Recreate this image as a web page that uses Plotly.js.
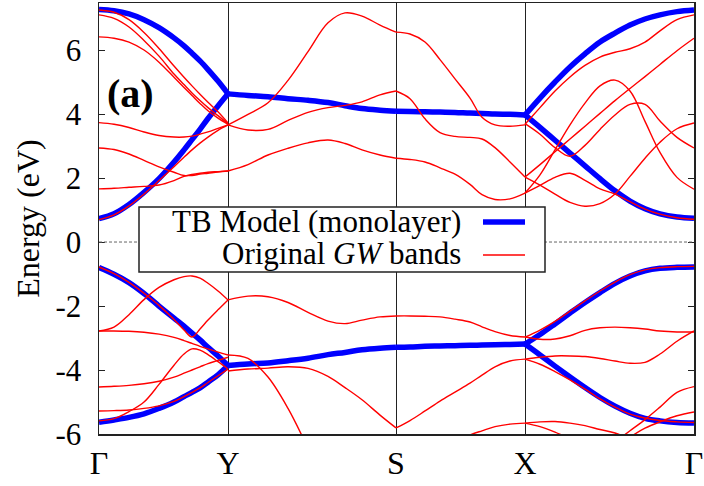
<!DOCTYPE html>
<html>
<head>
<meta charset="utf-8">
<script src="https://cdn.plot.ly/plotly-3.0.1.min.js"></script>
<style>html,body{margin:0;padding:0;background:#fff;}#chart{width:704px;height:486px;}</style>
</head>
<body>
<div id="chart"></div>
<script>
// High-symmetry path (k in arbitrary path units)
const kLabels = ['Γ', 'Y', 'S', 'X', 'Γ'];
const kTicks = [0, 1.29, 2.97, 4.26, 5.95];
const yTicks = [-6, -4, -2, 0, 2, 4, 6];
const yTickText = ['-6', '-4', '-2', '0', '2', '4', '6'];

// k sample grids per path segment
const kGY = [0, 0.15, 0.30, 0.45, 0.60, 0.75, 0.85, 0.93, 1.01, 1.09, 1.19, 1.29];
const kYS = [1.29, 1.49, 1.69, 1.89, 2.09, 2.29, 2.46, 2.63, 2.81, 2.97];
const kSX = [2.97, 3.11, 3.26, 3.41, 3.56, 3.71, 3.83, 3.96, 4.11, 4.26];
const kXG = [4.26, 4.41, 4.56, 4.71, 4.86, 5.01, 5.16, 5.31, 5.46, 5.61, 5.78, 5.95];

// TB model (monolayer) bands, eV
const tbGY_c1 = [7.27, 7.23, 7.13, 6.95, 6.70, 6.38, 6.13, 5.90, 5.66, 5.39, 5.03, 4.63];
const tbGY_c2 = [0.73, 0.88, 1.17, 1.55, 1.98, 2.50, 2.88, 3.20, 3.52, 3.86, 4.25, 4.63];
const tbGY_v1 = [-0.80, -1.01, -1.27, -1.61, -2.00, -2.38, -2.63, -2.85, -3.06, -3.29, -3.56, -3.86];
const tbGY_v2 = [-5.63, -5.56, -5.48, -5.37, -5.20, -5.00, -4.83, -4.70, -4.56, -4.38, -4.15, -3.86];
const tbYS_c = [4.63, 4.58, 4.54, 4.48, 4.43, 4.36, 4.26, 4.17, 4.12, 4.09];
const tbYS_v = [-3.86, -3.81, -3.78, -3.71, -3.63, -3.52, -3.45, -3.37, -3.32, -3.29];
const tbSX_c = [4.09, 4.08, 4.07, 4.06, 4.05, 4.03, 4.02, 4.00, 3.99, 3.97];
const tbSX_v = [-3.29, -3.28, -3.26, -3.25, -3.24, -3.23, -3.22, -3.21, -3.20, -3.19];
const tbXG_c1 = [3.97, 4.50, 5.00, 5.47, 5.88, 6.25, 6.53, 6.78, 6.97, 7.10, 7.20, 7.25];
const tbXG_c2 = [3.97, 3.58, 3.18, 2.78, 2.38, 1.98, 1.60, 1.28, 1.04, 0.88, 0.78, 0.74];
const tbXG_v1 = [-3.19, -2.89, -2.56, -2.22, -1.89, -1.58, -1.29, -1.06, -0.90, -0.82, -0.79, -0.78];
const tbXG_v2 = [-3.19, -3.53, -3.88, -4.22, -4.55, -4.86, -5.13, -5.35, -5.51, -5.59, -5.64, -5.66];

// Original GW bands, eV
const gwGY_c1 = [0.70, 0.85, 1.13, 1.50, 1.92, 2.35, 2.65, 2.88, 3.09, 3.28, 3.49, 3.66];
const gwGY_c2 = [1.66, 1.68, 1.71, 1.74, 1.78, 1.92, 2.05, 2.11, 2.15, 2.18, 2.20, 2.22];
const gwGY_c3 = [2.94, 2.89, 2.75, 2.55, 2.35, 2.18, 2.08, 2.08, 2.12, 2.15, 2.19, 2.22];
const gwGY_c4 = [3.73, 3.68, 3.58, 3.44, 3.33, 3.28, 3.28, 3.31, 3.37, 3.44, 3.55, 3.66];
const gwGY_c5 = [6.41, 6.37, 6.25, 6.00, 5.62, 5.15, 4.83, 4.58, 4.33, 4.10, 3.87, 3.68];
const gwGY_c6 = [7.10, 6.99, 6.72, 6.30, 5.81, 5.25, 4.92, 4.66, 4.42, 4.20, 3.95, 3.70];
const gwGY_c7 = [7.25, 7.18, 6.95, 6.55, 6.05, 5.50, 5.15, 4.88, 4.62, 4.37, 4.07, 3.72];
const gwGY_v1 = [-0.78, -0.99, -1.26, -1.60, -1.98, -2.42, -2.75, -2.97, -2.72, -2.44, -2.12, -1.81];
const gwGY_v2 = [-2.78, -2.66, -2.27, -1.80, -1.42, -1.18, -1.08, -1.06, -1.13, -1.29, -1.53, -1.81];
const gwGY_v3 = [-2.78, -2.78, -2.79, -2.82, -2.88, -2.98, -3.08, -3.17, -3.26, -3.34, -3.44, -3.53];
const gwGY_v4 = [-5.59, -5.52, -5.30, -5.00, -4.45, -3.85, -3.50, -3.34, -3.38, -3.52, -3.74, -3.97];
const gwGY_v5 = [-4.53, -4.51, -4.48, -4.43, -4.35, -4.22, -4.10, -4.00, -3.90, -3.80, -3.70, -3.60];
const gwGY_v6 = [-5.28, -5.27, -5.25, -5.20, -5.12, -4.98, -4.83, -4.70, -4.56, -4.39, -4.18, -3.97];

const gwYS_c1 = [3.66, 3.99, 4.35, 5.05, 5.95, 6.85, 7.16, 7.06, 6.78, 6.56];
const gwYS_c2 = [3.66, 3.50, 3.52, 3.80, 4.05, 4.20, 4.27, 4.38, 4.60, 4.72];
const gwYS_c3 = [2.22, 2.42, 2.72, 2.93, 3.10, 3.19, 3.08, 2.88, 2.72, 2.62];
const gwYS_v1 = [-1.81, -1.69, -1.71, -1.89, -2.20, -2.47, -2.55, -2.44, -2.34, -2.31];
const gwYS_v2 = [-3.53, -3.64, -4.22, -5.20, -6.45, null, null, null, null, null];
const gwYS_v3 = [-4.03, -3.97, -3.94, -3.90, -3.95, -4.20, -4.55, -4.93, -5.41, -5.81];

const gwSX_c1 = [6.56, 6.50, 6.25, 5.70, 5.10, 4.50, 3.90, 3.66, 3.62, 3.66];
const gwSX_c2 = [4.72, 4.48, 3.85, 3.42, 3.30, 3.27, 3.22, 2.95, 2.50, 2.03];
const gwSX_c3 = [2.62, 2.58, 2.50, 2.32, 2.12, 1.80, 1.48, 1.33, 1.35, 1.53];
const gwSX_v1 = [-2.31, -2.31, -2.32, -2.34, -2.41, -2.50, -2.65, -2.80, -2.92, -2.97];
const gwSX_v2 = [-5.81, -5.58, -5.28, -4.97, -4.69, -4.41, -4.16, -3.90, -3.72, -3.66];
const gwSX_v3 = [null, null, null, null, -6.25, -6.03, -5.90, -5.77, -5.69, -5.66];

const gwXG_c1 = [3.68, 4.20, 4.72, 5.16, 5.52, 5.78, 5.93, 6.04, 6.25, 6.60, 6.95, 7.10];
const gwXG_c2 = [3.70, 3.37, 2.95, 2.68, 3.02, 3.52, 3.97, 4.30, 4.30, 3.78, 3.27, 2.94];
const gwXG_c3 = [2.03, 2.42, 2.82, 3.22, 3.62, 4.02, 4.42, 4.80, 5.17, 5.55, 5.98, 6.37];
const gwXG_c4 = [1.53, 2.10, 2.88, 3.66, 4.34, 4.88, 5.06, 4.72, 3.77, 2.80, 2.02, 1.65];
const gwXG_c5 = [2.03, 1.78, 1.50, 1.24, 1.12, 1.20, 1.50, 2.05, 2.62, 3.12, 3.54, 3.72];
const gwXG_c6 = [1.53, 1.77, 2.02, 2.15, 1.93, 1.66, 1.50, 1.26, 1.03, 0.87, 0.76, 0.71];
const gwXG_v1 = [-2.97, -2.75, -2.48, -2.16, -1.84, -1.53, -1.25, -1.02, -0.87, -0.80, -0.77, -0.76];
const gwXG_v2 = [-2.97, -3.04, -3.03, -2.93, -2.76, -2.68, -2.66, -2.68, -2.72, -2.78, -2.81, -2.81];
const gwXG_v3 = [-3.66, -3.60, -3.56, -3.56, -3.58, -3.64, -3.72, -3.79, -3.76, -3.50, -3.10, -2.78];
const gwXG_v4 = [-3.66, -3.82, -4.05, -4.31, -4.60, -4.90, -5.16, -5.38, -5.50, -5.58, -5.62, -5.64];
const gwXG_v5 = [null, null, null, null, null, null, -6.25, -5.90, -5.55, -5.16, -4.70, -4.52];
const gwXG_v6 = [null, null, null, null, null, null, -6.45, -6.10, -5.82, -5.62, -5.43, -5.31];
const gwXG_v7 = [-5.66, -5.62, -5.61, -5.66, -5.74, -5.86, -5.97, -6.15, null, null, null, null];
const gwXG_v8 = [-5.66, -5.77, -5.94, -6.15, null, null, null, null, null, null, null, null];

const tbBands = [
  [kGY, tbGY_c1], [kGY, tbGY_c2], [kGY, tbGY_v1], [kGY, tbGY_v2],
  [kYS, tbYS_c], [kYS, tbYS_v], [kSX, tbSX_c], [kSX, tbSX_v],
  [kXG, tbXG_c1], [kXG, tbXG_c2], [kXG, tbXG_v1], [kXG, tbXG_v2]
];
const gwBands = [
  [kGY, gwGY_c1], [kGY, gwGY_c2], [kGY, gwGY_c3], [kGY, gwGY_c4], [kGY, gwGY_c5], [kGY, gwGY_c6], [kGY, gwGY_c7],
  [kGY, gwGY_v1], [kGY, gwGY_v2], [kGY, gwGY_v3], [kGY, gwGY_v4], [kGY, gwGY_v5], [kGY, gwGY_v6],
  [kYS, gwYS_c1], [kYS, gwYS_c2], [kYS, gwYS_c3], [kYS, gwYS_v1], [kYS, gwYS_v2], [kYS, gwYS_v3],
  [kSX, gwSX_c1], [kSX, gwSX_c2], [kSX, gwSX_c3], [kSX, gwSX_v1], [kSX, gwSX_v2], [kSX, gwSX_v3],
  [kXG, gwXG_c1], [kXG, gwXG_c2], [kXG, gwXG_c3], [kXG, gwXG_c4], [kXG, gwXG_c5], [kXG, gwXG_c6],
  [kXG, gwXG_v1], [kXG, gwXG_v2], [kXG, gwXG_v3], [kXG, gwXG_v4], [kXG, gwXG_v5], [kXG, gwXG_v6],
  [kXG, gwXG_v7], [kXG, gwXG_v8]
];

function join(bands) {
  const x = [], y = [];
  bands.forEach(function (b) {
    for (let i = 0; i < b[0].length; i++) { x.push(b[0][i]); y.push(b[1][i]); }
    x.push(null); y.push(null);
  });
  return {x: x, y: y};
}

const FONT = 'Liberation Serif, Times New Roman, serif';
const tb = join(tbBands), gw = join(gwBands);

const traces = [
  {type: 'scatter', mode: 'lines', name: 'TB Model (monolayer)', x: tb.x, y: tb.y,
   line: {color: '#0000ff', width: 5.5, shape: 'spline', smoothing: 1}, connectgaps: false,
   showlegend: false, hoverinfo: 'skip'},
  {type: 'scatter', mode: 'lines', name: 'Original GW bands', x: gw.x, y: gw.y,
   line: {color: '#ff0000', width: 1.4, shape: 'spline', smoothing: 1}, connectgaps: false,
   showlegend: false, hoverinfo: 'skip'}
];

function px(x) { return (x - 99) / 595; }
function py(y) { return (434 - y) / 431; }

const layout = {
  width: 704, height: 486,
  margin: {l: 99, r: 10, t: 3, b: 52},
  paper_bgcolor: '#ffffff', plot_bgcolor: '#ffffff',
  font: {family: FONT, color: '#000', size: 30},
  showlegend: false,
  xaxis: {
    range: [0, 5.95], tickvals: kTicks, ticktext: kLabels, ticks: '',
    showgrid: true, gridcolor: '#222', gridwidth: 1, zeroline: false,
    showline: true, mirror: true, linecolor: '#222', linewidth: 1.5,
    tickfont: {family: FONT, size: 32, color: '#000'}
  },
  yaxis: {
    range: [-6, 7.47], tickvals: yTicks, ticktext: yTickText,
    ticks: 'inside', ticklen: 6, tickwidth: 1, tickcolor: '#222',
    showgrid: false, zeroline: false,
    showline: true, mirror: 'ticks', linecolor: '#222', linewidth: 1.5,
    tickfont: {family: FONT, size: 31, color: '#000'},
    ticklabelstandoff: 10,
    title: {text: 'Energy (eV)', font: {family: FONT, size: 32, color: '#000'}, standoff: 6}
  },
  shapes: [
    {type: 'line', xref: 'x', yref: 'y', x0: 0, x1: 5.95, y0: 0, y1: 0,
     line: {color: '#666', width: 1, dash: '3px,2px'}, layer: 'above'},
    {type: 'rect', xref: 'paper', yref: 'paper', x0: px(139), x1: px(545), y0: py(272), y1: py(207),
     line: {color: '#222', width: 1.5}, fillcolor: '#ffffff', layer: 'above'},
    {type: 'line', xref: 'paper', yref: 'paper', x0: px(483), x1: px(525), y0: py(222), y1: py(222),
     line: {color: '#0000ff', width: 5.5}, layer: 'above'},
    {type: 'line', xref: 'paper', yref: 'paper', x0: px(483), x1: px(525), y0: py(255), y1: py(255),
     line: {color: '#ff0000', width: 1.4}, layer: 'above'}
  ],
  annotations: [
    {xref: 'paper', yref: 'paper', x: px(105), y: py(94), xanchor: 'left', yanchor: 'middle',
     text: '<b>(a)</b>', showarrow: false, font: {family: FONT, size: 40, color: '#000'}},
    {xref: 'paper', yref: 'paper', x: px(463), y: py(222), xanchor: 'right', yanchor: 'middle',
     text: 'TB Model (monolayer)', showarrow: false, font: {family: FONT, size: 31, color: '#000'}},
    {xref: 'paper', yref: 'paper', x: px(463), y: py(254), xanchor: 'right', yanchor: 'middle',
     text: 'Original <i>GW</i> bands', showarrow: false, font: {family: FONT, size: 31, color: '#000'}}
  ]
};

Plotly.newPlot('chart', traces, layout, {staticPlot: true, displayModeBar: false});
</script>
</body>
</html>
